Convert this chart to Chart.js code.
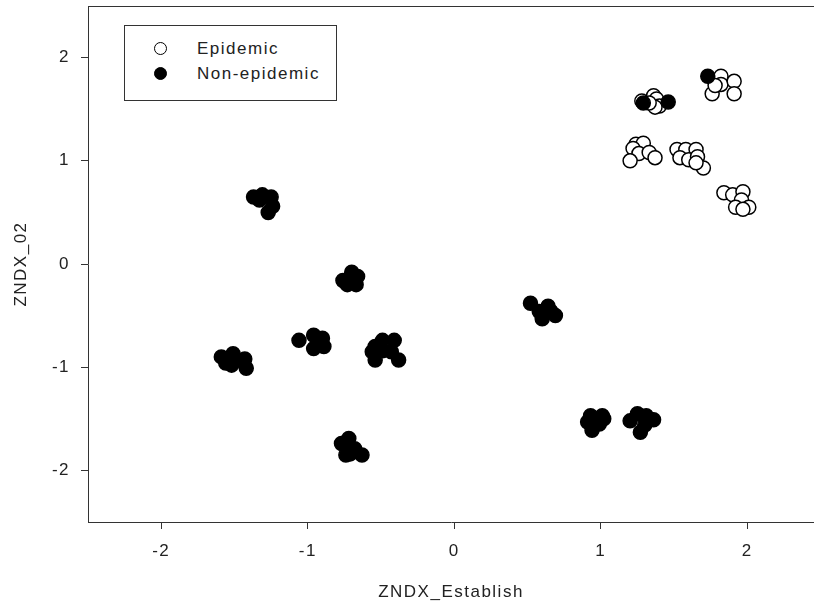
<!DOCTYPE html>
<html>
<head>
<meta charset="utf-8">
<script src="https://cdn.jsdelivr.net/npm/chart.js@4.4.1/dist/chart.umd.min.js"></script>
<style>
  html, body { margin: 0; padding: 0; background: #fff; }
  #wrap { position: relative; width: 814px; height: 608px; }
  #legend { position: absolute; left: 124px; top: 25px; width: 213px; height: 76px;
            box-sizing: border-box; border: 1px solid #333; background: #fff;
            font-family: "Liberation Sans", Arial, sans-serif; font-size: 17px; color: #222; letter-spacing: 1.5px; }
  .item { position: absolute; left: 0; height: 20px; line-height: 20px; }
  .mk { position: absolute; width: 11px; height: 11px; border-radius: 50%; border: 1.5px solid #000; box-sizing: content-box; }
  .lbl { position: absolute; left: 72px; white-space: nowrap; }
</style>
</head>
<body>
<div id="wrap">
  <canvas id="c" width="814" height="608"></canvas>
  <div id="legend">
    <div class="item" style="top:13px"><span class="mk" style="left:29px;top:3px;background:#fff"></span><span class="lbl">Epidemic</span></div>
    <div class="item" style="top:38px"><span class="mk" style="left:29px;top:3px;background:#000"></span><span class="lbl">Non-epidemic</span></div>
  </div>
</div>
<script>
const seriesNames = ["Epidemic", "Non-epidemic"];
const xTickValues = [-2, -1, 0, 1, 2];
const yTickValues = [-2, -1, 0, 1, 2];
const xTitle = "ZNDX_Establish";
const yTitle = "ZNDX_02";

const epidemicX = [1.82, 1.82, 1.91, 1.76, 1.91, 1.78,
                   1.28, 1.36, 1.38, 1.40, 1.37, 1.33,
                   1.24, 1.29, 1.22, 1.26, 1.33, 1.37, 1.20,
                   1.52, 1.58, 1.65, 1.54, 1.60, 1.66, 1.70, 1.65,
                   1.84, 1.90, 1.97, 1.96, 1.92, 2.01, 1.97];
const epidemicY = [1.82, 1.74, 1.77, 1.65, 1.65, 1.73,
                   1.58, 1.63, 1.60, 1.53, 1.52, 1.56,
                   1.16, 1.17, 1.12, 1.07, 1.08, 1.03, 1.00,
                   1.11, 1.11, 1.11, 1.03, 1.01, 1.04, 0.93, 0.98,
                   0.69, 0.67, 0.70, 0.62, 0.55, 0.55, 0.53];

const nonEpidemicX = [1.73,
                      1.29, 1.46,
                      -1.37, -1.31, -1.25, -1.24, -1.27, -1.33,
                      -0.76, -0.70, -0.66, -0.67, -0.73, -0.71,
                      -1.59, -1.51, -1.52, -1.56, -1.43, -1.42, -1.48,
                      -1.06, -0.96, -0.90, -0.89, -0.96, -0.93,
                      -0.54, -0.49, -0.41, -0.54, -0.49, -0.38, -0.43, -0.56,
                      -0.77, -0.72, -0.74, -0.68, -0.63, -0.71,
                      0.52, 0.58, 0.64, 0.60, 0.69, 0.66,
                      0.93, 1.01, 0.91, 0.94, 0.99, 1.02,
                      1.20, 1.25, 1.31, 1.36, 1.27, 1.30];
const nonEpidemicY = [1.82,
                      1.56, 1.57,
                      0.65, 0.67, 0.65, 0.56, 0.50, 0.62,
                      -0.16, -0.08, -0.12, -0.20, -0.20, -0.14,
                      -0.90, -0.87, -0.98, -0.96, -0.92, -1.01, -0.93,
                      -0.74, -0.69, -0.72, -0.80, -0.82, -0.75,
                      -0.80, -0.74, -0.74, -0.93, -0.84, -0.93, -0.85, -0.85,
                      -1.74, -1.69, -1.85, -1.79, -1.85, -1.84,
                      -0.38, -0.46, -0.41, -0.53, -0.50, -0.46,
                      -1.47, -1.47, -1.53, -1.61, -1.55, -1.50,
                      -1.52, -1.45, -1.47, -1.51, -1.63, -1.56];

const toPoints = (xs, ys) => xs.map((x, i) => ({ x: x, y: ys[i] }));

const FONT = { family: "'Liberation Sans', Arial, sans-serif", size: 17 };
const INK = '#222';
const FRAME = '#333';

const frameTop = {
  id: 'frameTop',
  beforeDraw(chart) { chart.ctx.letterSpacing = '1.5px'; },
  afterDraw(chart) {
    const { ctx, chartArea } = chart;
    ctx.save();
    ctx.strokeStyle = FRAME;
    ctx.lineWidth = 1;
    ctx.beginPath();
    ctx.moveTo(chartArea.left, chartArea.top + 0.5);
    ctx.lineTo(chartArea.right, chartArea.top + 0.5);
    ctx.stroke();
    ctx.restore();
  }
};

new Chart(document.getElementById('c'), {
  type: 'scatter',
  data: {
    datasets: [
      { label: seriesNames[1], data: toPoints(nonEpidemicX, nonEpidemicY),
        backgroundColor: '#000', borderColor: '#000', borderWidth: 1.5, pointRadius: 7, pointHoverRadius: 7 },
      { label: seriesNames[0], data: toPoints(epidemicX, epidemicY),
        backgroundColor: '#fff', borderColor: '#000', borderWidth: 1.5, pointRadius: 7, pointHoverRadius: 7 }
    ]
  },
  options: {
    responsive: false,
    animation: false,
    events: [],
    layout: { autoPadding: false, padding: { top: 6, right: 0, left: 0, bottom: 0 } },
    plugins: { legend: { display: false }, tooltip: { enabled: false } },
    scales: {
      x: {
        type: 'linear', min: -2.5, max: 2.455,
        afterBuildTicks: s => { s.ticks = xTickValues.map(v => ({ value: v })); },
        afterFit: s => { s.height = 86; s.paddingLeft = 0; s.paddingRight = 0; },
        grid: { drawOnChartArea: false, drawTicks: true, tickLength: 7, color: FRAME, lineWidth: 1 },
        border: { display: true, color: FRAME, width: 1 },
        ticks: { font: FONT, color: INK, padding: 12, maxRotation: 0 },
        title: { display: true, text: xTitle, font: FONT, color: INK, padding: { top: 0, bottom: 5 } }
      },
      y: {
        type: 'linear', min: -2.5, max: 2.5,
        afterBuildTicks: s => { s.ticks = yTickValues.map(v => ({ value: v })); },
        afterFit: s => { s.width = 88; s.paddingTop = 0; s.paddingBottom = 0; },
        grid: { drawOnChartArea: false, drawTicks: true, tickLength: 7, color: FRAME, lineWidth: 1 },
        border: { display: true, color: FRAME, width: 1 },
        ticks: { font: FONT, color: INK, padding: 11 },
        title: { display: true, text: yTitle, font: FONT, color: INK, padding: { top: 11, bottom: 0 } }
      }
    }
  },
  plugins: [frameTop]
});
</script>
</body>
</html>
